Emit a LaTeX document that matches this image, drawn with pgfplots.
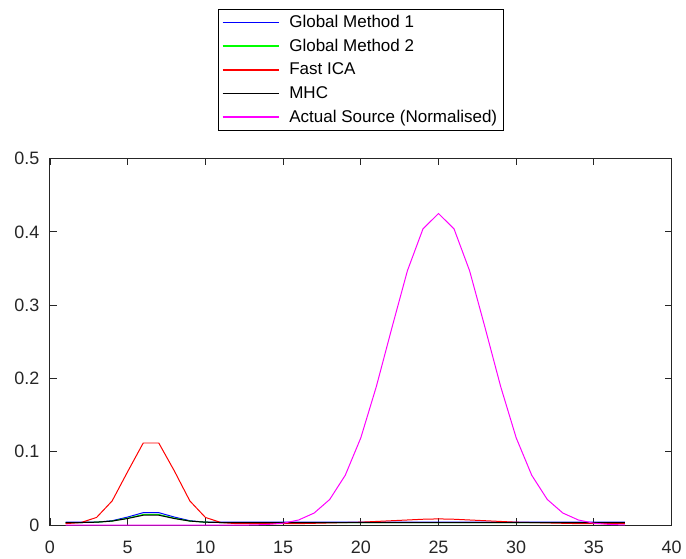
\documentclass[border={7.5pt 0pt 0pt 6.75pt}]{standalone}
\usepackage{fontspec}
\setmainfont{Liberation Sans}
\usepackage{pgfplots}
\pgfplotsset{compat=1.18}

\definecolor{mblue}{RGB}{0,0,255}
\definecolor{mgreen}{RGB}{0,255,0}
\definecolor{mred}{RGB}{255,0,0}
\definecolor{mmag}{RGB}{255,0,255}
\definecolor{axgray}{RGB}{38,38,38}

\begin{document}
\begin{tikzpicture}
  \begin{axis}[
    scale only axis,
    width=468pt, height=276pt,
    xmin=0, xmax=40, ymin=0, ymax=0.5,
    xtick={0,5,...,40},
    ytick={0,0.1,...,0.5},
    tick align=inside,
    major tick length=5.25pt,
    tick style={axgray, line width=0.7pt},
    axis line style={axgray, line width=0.75pt},
    ticklabel style={font=\fontsize{13.5}{15}\selectfont, text=axgray},
    /pgf/number format/assume math mode=true,
    yticklabel style={xshift=-4.5pt, /pgf/number format/fixed, /pgf/number format/precision=1},
    xticklabel style={yshift=-8.5pt},
    legend style={
      at={(0.5,1.408)}, anchor=north,
      font=\fontsize{12.8}{14}\selectfont,
      row sep=3.2pt, column sep=5pt,
      inner xsep=2.5pt, inner ysep=2.5pt,
      cells={anchor=west},
    },
    legend image code/.code={
      \draw[#1, line width=1.2pt] (0cm,0cm) -- (1.5cm,0cm);
    },
    every axis plot/.append style={line width=0.75pt},
  ]
    % Global Method 1
    \addplot[color=mblue] coordinates {
      (1,0.004) (2,0.004) (3,0.004) (4,0.006) (5,0.011) (6,0.017) (7,0.017)
      (8,0.011) (9,0.006) (10,0.004) (11,0.004) (12,0.004) (13,0.004) (14,0.004)
      (15,0.004) (16,0.004) (17,0.004) (18,0.004) (19,0.004) (20,0.004) (21,0.004)
      (22,0.004) (23,0.004) (24,0.004) (25,0.004) (26,0.004) (27,0.004) (28,0.004)
      (29,0.004) (30,0.004) (31,0.004) (32,0.004) (33,0.004) (34,0.004) (35,0.004)
      (36,0.004) (37,0.004)
    };
    \addlegendentry{Global Method 1}
    % Global Method 2
    \addplot[color=mgreen] coordinates {
      (1,0.0035) (2,0.0035) (3,0.004) (4,0.0055) (5,0.0095) (6,0.0145) (7,0.0145)
      (8,0.0095) (9,0.0055) (10,0.004) (11,0.0035) (12,0.0035) (13,0.0035) (14,0.0035)
      (15,0.0035) (16,0.0035) (17,0.0035) (18,0.0035) (19,0.0035) (20,0.0035) (21,0.0035)
      (22,0.0035) (23,0.0035) (24,0.0035) (25,0.0035) (26,0.0035) (27,0.0035) (28,0.0035)
      (29,0.0035) (30,0.0035) (31,0.0035) (32,0.0035) (33,0.0035) (34,0.0035) (35,0.0035)
      (36,0.0035) (37,0.0035)
    };
    \addlegendentry{Global Method 2}
    % Fast ICA
    \addplot[color=mred] coordinates {
      (1,0.002) (2,0.0035) (3,0.0105) (4,0.033) (5,0.073) (6,0.112) (7,0.112)
      (8,0.074) (9,0.033) (10,0.0105) (11,0.0035) (12,0.002) (13,0.002) (14,0.002)
      (15,0.002) (16,0.002) (17,0.0025) (18,0.003) (19,0.0035) (20,0.004) (21,0.005)
      (22,0.006) (23,0.007) (24,0.008) (25,0.0085) (26,0.008) (27,0.007) (28,0.006)
      (29,0.005) (30,0.004) (31,0.0035) (32,0.003) (33,0.0025) (34,0.002) (35,0.002)
      (36,0.002) (37,0.002)
    };
    \addlegendentry{Fast ICA}
    % MHC
    \addplot[color=black] coordinates {
      (1,0.0035) (2,0.0035) (3,0.004) (4,0.0055) (5,0.009) (6,0.0135) (7,0.0135)
      (8,0.009) (9,0.0055) (10,0.004) (11,0.0035) (12,0.0035) (13,0.0035) (14,0.0035)
      (15,0.0035) (16,0.0035) (17,0.0035) (18,0.0035) (19,0.0035) (20,0.0035) (21,0.0035)
      (22,0.0035) (23,0.0035) (24,0.0035) (25,0.0035) (26,0.0035) (27,0.0035) (28,0.0035)
      (29,0.0035) (30,0.0035) (31,0.0035) (32,0.0035) (33,0.0035) (34,0.0035) (35,0.0035)
      (36,0.0035) (37,0.0035)
    };
    \addlegendentry{MHC}
    % Actual source
    \addplot[color=mmag] coordinates {
      (1,0) (2,0) (3,0) (4,0) (5,0) (6,0) (7,0) (8,0) (9,0) (10,0) (11,0) (12,0)
      (13,0.0002) (14,0.0009) (15,0.0026) (16,0.007) (17,0.0165) (18,0.035)
      (19,0.068) (20,0.119) (21,0.189) (22,0.269) (23,0.347) (24,0.404) (25,0.425)
      (26,0.404) (27,0.347) (28,0.269) (29,0.189) (30,0.119) (31,0.068) (32,0.035)
      (33,0.0165) (34,0.007) (35,0.0026) (36,0.0009) (37,0.0002)
    };
    \addlegendentry{Actual Source (Normalised)}
  \end{axis}
\end{tikzpicture}
\end{document}
